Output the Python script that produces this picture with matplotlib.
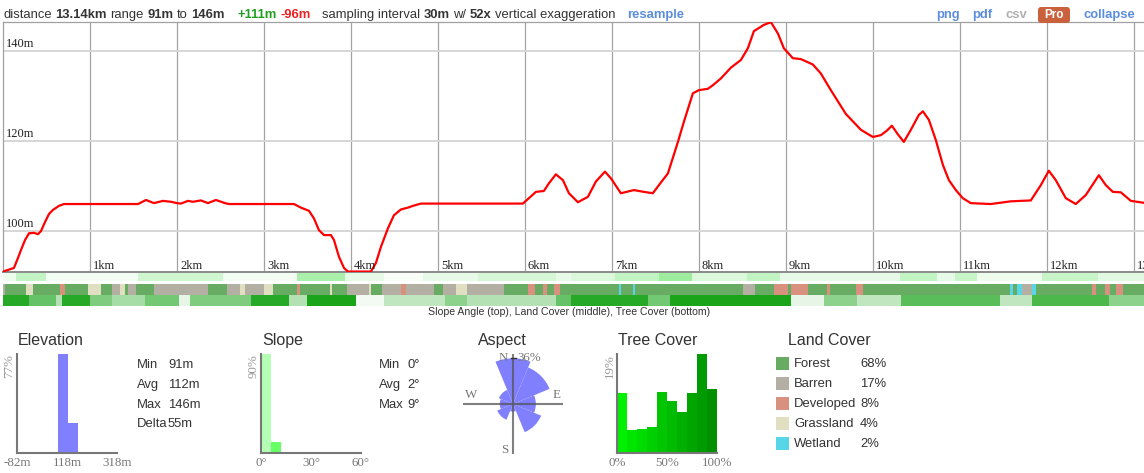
import numpy as np
import matplotlib
matplotlib.use('Agg')
import matplotlib.pyplot as plt
import matplotlib.transforms as mtrans
from matplotlib.colors import LinearSegmentedColormap, Normalize
from matplotlib.patches import FancyBboxPatch, Rectangle

# ---------------- data ----------------
dist_km = [0.000, 0.126, 0.172, 0.207, 0.253, 0.299, 0.356, 0.402, 0.437, 0.483, 0.529, 0.575,
           0.644, 0.701, 1.552, 1.644, 1.736, 1.839, 1.931, 2.000, 2.046, 2.126, 2.184, 2.276,
           2.356, 2.448, 2.552, 2.598, 3.345, 3.425, 3.517, 3.575, 3.632, 3.690, 3.770, 3.805,
           3.862, 3.920, 3.966, 4.230, 4.287, 4.345, 4.425, 4.494, 4.575, 4.655, 4.713, 4.805,
           5.977, 6.046, 6.126, 6.218, 6.276, 6.356, 6.437, 6.506, 6.609, 6.724, 6.816, 6.920,
           6.989, 7.103, 7.253, 7.368, 7.471, 7.540, 7.644, 7.759, 7.828, 7.931, 8.000, 8.103,
           8.161, 8.253, 8.368, 8.483, 8.563, 8.632, 8.747, 8.828, 8.908, 8.977, 9.080, 9.172,
           9.310, 9.402, 9.517, 9.690, 9.862, 10.000, 10.092, 10.161, 10.218, 10.287, 10.356,
           10.437, 10.529, 10.575, 10.644, 10.724, 10.805, 10.874, 10.954, 11.034, 11.126,
           11.356, 11.586, 11.816, 11.931, 12.023, 12.103, 12.218, 12.333, 12.448, 12.598,
           12.678, 12.759, 12.851, 12.966, 13.140]
elev_m = [91.0, 91.8, 94.0, 95.8, 98.0, 99.5, 99.6, 99.3, 100.0, 102.0, 103.8, 104.7,
          105.6, 106.0, 106.0, 106.9, 106.2, 106.7, 106.5, 106.2, 106.1, 106.7, 106.5, 106.8,
          106.2, 106.9, 106.2, 106.0, 106.0, 105.2, 104.5, 102.8, 100.2, 99.1, 99.1, 98.0,
          94.3, 91.8, 91.0, 91.0, 92.9, 96.5, 100.6, 103.5, 104.8, 105.2, 105.6, 106.1,
          106.1, 107.3, 108.7, 108.9, 110.6, 112.6, 111.3, 108.4, 106.4, 107.6, 111.0, 113.2,
          111.7, 108.4, 109.1, 108.7, 108.4, 110.2, 112.8, 119.8, 124.3, 130.6, 131.3, 131.6,
          132.4, 133.9, 136.3, 138.0, 140.6, 144.4, 145.8, 146.4, 143.9, 140.6, 138.4, 138.2,
          137.0, 135.0, 131.3, 126.0, 122.5, 120.9, 121.3, 122.3, 123.4, 121.5, 119.8,
          122.5, 125.8, 126.6, 124.7, 120.2, 114.7, 111.3, 109.1, 107.3, 106.2,
          106.0, 106.6, 106.8, 110.2, 113.4, 111.3, 107.3, 106.0, 108.0, 112.4,
          110.2, 108.7, 108.6, 106.7, 106.2]
km_ticks = list(range(1, 14))
elev_ticks = [100, 120, 140]
total_km = 13.14

lc_edges = [0.00, 0.02, 0.27, 0.34, 0.66, 0.71, 0.98, 1.13, 1.25, 1.34, 1.40, 1.44, 1.53, 1.74,
            2.36, 2.57, 2.72, 2.78, 3.00, 3.10, 3.38, 3.41, 3.76, 3.78, 3.95, 4.21, 4.23, 4.36,
            4.57, 4.63, 4.95, 5.06, 5.21, 5.33, 5.76, 6.04, 6.12, 6.21, 6.25, 6.33, 6.40, 7.08,
            7.11, 7.24, 7.27, 8.51, 8.65, 8.86, 9.03, 9.06, 9.26, 9.47, 9.51, 9.81, 9.89, 11.58,
            11.61, 11.66, 11.72, 11.83, 11.88, 12.52, 12.57, 12.67, 12.73, 12.80, 12.88, 13.14]
lc_class = ['B', 'F', 'G', 'F', 'D', 'F', 'G', 'F', 'B', 'G', 'F', 'B', 'F',
            'B', 'F', 'B', 'G', 'B', 'G', 'F', 'D', 'F', 'G', 'F', 'B', 'G', 'F',
            'B', 'D', 'B', 'F', 'B', 'G', 'B', 'F', 'D', 'F', 'D', 'F', 'D', 'F',
            'W', 'F', 'W', 'F', 'B', 'F', 'D', 'F', 'D', 'F', 'D', 'F', 'D', 'F',
            'W', 'F', 'W', 'B', 'W', 'F', 'D', 'F', 'D', 'F', 'D', 'F']

slope_edges = [0.00, 0.15, 0.49, 1.55, 2.53, 3.38, 3.93, 4.38, 4.83, 5.46, 6.36, 6.53, 7.03,
               7.54, 7.92, 8.55, 8.93, 10.31, 10.74, 10.94, 11.20, 11.95, 12.59, 13.14]
slope_deg = [1.5, 5, 1, 4, 1, 7, 2, 0.5, 2, 3.5, 2, 3, 5, 8, 3, 5, 2, 5, 2, 4.5, 1.5, 4.5, 2.5]

tree_edges = [0.00, 0.30, 0.61, 0.68, 1.00, 1.25, 1.63, 2.02, 2.15, 2.85, 3.29, 3.49, 4.06,
              4.38, 5.08, 5.33, 6.36, 6.53, 7.41, 7.67, 9.06, 9.44, 9.82, 10.32, 11.46, 11.83,
              12.71, 13.14]
tree_pct = [85, 60, 30, 85, 50, 35, 55, 10, 50, 85, 30, 90, 5, 25, 45, 30, 60, 85, 55, 90,
            10, 45, 25, 65, 25, 70, 45]

elev_hist_edges = [82, 122, 162]
elev_hist_pct = [77, 23]
slope_hist_edges = [0, 6, 12]
slope_hist_pct = [90, 10]
tree_hist_edges = [0, 10, 20, 30, 40, 50, 60, 70, 80, 90, 100]
tree_hist_pct = [11.6, 4.5, 4.7, 5.0, 11.8, 10.0, 7.8, 11.5, 19.0, 12.3]
aspect_dirs = ['N', 'NE', 'E', 'SE', 'S', 'SW', 'W', 'NW']
aspect_pct = [36, 27, 9, 16, 1, 5, 3, 4]

elev_stat_names = ['Min', 'Avg', 'Max', 'Delta']
elev_stat_vals = ['91m', '112m', '146m', '55m']
slope_stat_names = ['Min', 'Avg', 'Max']
slope_stat_vals = ['0°', '2°', '9°']

lc_names = ['Forest', 'Barren', 'Developed', 'Grassland', 'Wetland']
lc_keys = ['F', 'B', 'D', 'G', 'W']
lc_share = ['68%', '17%', '8%', '4%', '2%']
lc_colors = {'F': '#68ab63', 'B': '#b3afa3', 'D': '#d9917f', 'G': '#e0dfc2', 'W': '#56d6e8'}

# ---------------- figure ----------------
W, H = 1144, 473
SANS = 'Liberation Sans'
SERIF = 'Liberation Serif'
fig = plt.figure(figsize=(W / 100, H / 100), dpi=100)


def px_axes(l, t, w, h, **kw):
    return fig.add_axes([l / W, 1 - (t + h) / H, w / W, h / H], **kw)


# main profile
ax = px_axes(3, 22, 1143, 250)
ax.set_xlim(0, total_km)
ax.set_ylim(90.9, 146.44)
for k in km_ticks:
    ax.axvline(k, color='#a3a3a3', lw=0.9, zorder=1)
for e in elev_ticks:
    ax.axhline(e, color='#d6d6d6', lw=1.4, zorder=1)
ax.plot(dist_km, elev_m, color='#ff0000', lw=1.6, solid_joinstyle='round',
        solid_capstyle='round', zorder=3)
ax.set_xticks([])
ax.set_yticks([])
for s in ['left', 'top']:
    ax.spines[s].set_color('#a0a0a0')
    ax.spines[s].set_linewidth(0.9)
ax.spines['bottom'].set_color('#8a8a8a')
ax.spines['bottom'].set_linewidth(1.4)
ax.spines['right'].set_visible(False)

xlab_tr = mtrans.offset_copy(ax.get_xaxis_transform(), fig=fig, x=3, y=3, units='dots')
for k in km_ticks:
    ax.text(k, 0, f'{k}km', transform=xlab_tr, ha='left', va='baseline',
            family=SERIF, fontsize=9, color='#222', zorder=4)
ylab_tr = mtrans.offset_copy(ax.get_yaxis_transform(), fig=fig, x=3, y=4, units='dots')
for e in elev_ticks:
    ax.text(0, e, f'{e}m', transform=ylab_tr, ha='left', va='baseline',
            family=SERIF, fontsize=9, color='#222', zorder=4)


# strips
def strip(top, h, edges, colors):
    a = px_axes(3, top, 1143, h)
    spans = [(edges[i], edges[i + 1] - edges[i]) for i in range(len(colors))]
    a.broken_barh(spans, (0, 1), facecolors=colors, edgecolor='none', linewidth=0)
    a.set_xlim(0, total_km)
    a.set_ylim(0, 1)
    a.set_axis_off()
    return a


slope_cmap = LinearSegmentedColormap.from_list('sl', ['#ffffff', '#86e886'])
tree_cmap = LinearSegmentedColormap.from_list('tr', ['#ffffff', '#009a00'])
strip(273, 8, slope_edges, [slope_cmap(Normalize(0, 10)(v)) for v in slope_deg])
strip(284, 11, lc_edges, [lc_colors[c] for c in lc_class])
strip(295, 11, tree_edges, [tree_cmap(Normalize(0, 100)(v)) for v in tree_pct])


# histograms
def hist_axes(left, edges, vals, colors, xlim, xlabels, ymax, ylbl):
    a = px_axes(left, 354, 100, 99)
    a.bar(edges[:-1], vals, width=np.diff(edges), align='edge', color=colors, linewidth=0)
    a.set_xlim(*xlim)
    a.set_ylim(0, ymax)
    a.set_xticks([])
    a.set_yticks([])
    for s in ['top', 'right']:
        a.spines[s].set_visible(False)
    for s in ['left', 'bottom']:
        a.spines[s].set_color('#777777')
        a.spines[s].set_linewidth(1.5)
    for v, s in xlabels:
        a.text(v, -0.10, s, transform=a.get_xaxis_transform(), ha='center', va='center',
               family=SERIF, fontsize=9.4, color='#777')
    a.text(-0.075, 1.0, ylbl, transform=a.transAxes, rotation=90, ha='center', va='top',
           family=SERIF, fontsize=9.4, color='#999')
    a.patch.set_alpha(0)
    return a


hist_axes(17, elev_hist_edges, elev_hist_pct, '#8080ff', (-82, 318),
          [(-82, '-82m'), (118, '118m'), (318, '318m')], max(elev_hist_pct), '77%')
hist_axes(261, slope_hist_edges, slope_hist_pct, ['#b3ffb3', '#66ff66'], (0, 60),
          [(0, '0°'), (30, '30°'), (60, '60°')], max(slope_hist_pct), '90%')
tree_cols = [(0, (240 - i * 96 / 9) / 255, 0) for i in range(10)]
hist_axes(617, tree_hist_edges, tree_hist_pct, tree_cols, (0, 100),
          [(0, '0%'), (50, '50%'), (100, '100%')], max(tree_hist_pct), '19%')

# aspect rose
ax_a = px_axes(463, 354, 100, 100, projection='polar')
ax_a.set_theta_zero_location('N')
ax_a.set_theta_direction(-1)
theta = np.radians(np.arange(len(aspect_dirs)) * 45)
ax_a.bar(theta, np.sqrt(aspect_pct), width=np.radians(45), color='#8080ff', linewidth=0,
         zorder=1)
rmax = np.sqrt(max(aspect_pct)) * 50 / 45.7
ax_a.set_ylim(0, rmax)
for t in theta[::2]:
    ax_a.plot([t, t], [0, rmax], color='#555555', alpha=0.75, lw=1.5, zorder=2,
              solid_capstyle='butt')
ax_a.set_axis_off()

# overlay for text / legend
ov = fig.add_axes([0, 0, 1, 1])
ov.set_xlim(0, W)
ov.set_ylim(H, 0)
ov.set_axis_off()
renderer = fig.canvas.get_renderer()


def pieces(x, y, parts, fs=9.4, gap=3.6):
    for txt, bold, col in parts:
        t = ov.text(x, y, txt, fontsize=fs, fontweight='bold' if bold else 'normal',
                    color=col, family=SANS, ha='left', va='center')
        x += t.get_window_extent(renderer=renderer).width + gap
    return x


DK = '#333333'
BL = '#5b8edc'
pieces(3, 15, [('distance', False, DK), ('13.14km', True, DK), ('range', False, DK),
               ('91m', True, DK), ('to', False, DK), ('146m', True, DK)])
pieces(238, 15, [('+111m', True, '#1e9e1e'), ('-96m', True, '#ee2020')])
pieces(322, 15, [('sampling interval', False, DK), ('30m', True, DK), ('w/', False, DK),
                 ('52x', True, DK), ('vertical exaggeration', False, DK)])
pieces(627, 15, [('resample', True, BL)])
pieces(936, 15, [('png', True, BL)])
pieces(972, 15, [('pdf', True, BL)])
pieces(1006, 15, [('csv', True, '#b0b0b0')])
ov.add_patch(FancyBboxPatch((1038, 7), 32, 16, boxstyle='round,pad=0,rounding_size=3',
                            facecolor='#c9623c', edgecolor='none'))
ov.text(1054, 15.5, 'Pro', fontsize=8.5, fontweight='bold', color='white', family=SANS,
        ha='center', va='center')
pieces(1083, 15, [('collapse', True, BL)])

ov.text(569, 312, 'Slope Angle (top), Land Cover (middle), Tree Cover (bottom)',
        fontsize=7.6, color=DK, family=SANS, ha='center', va='center')

# titles
for x, s in [(18, 'Elevation'), (262, 'Slope'), (478, 'Aspect'), (618, 'Tree Cover'),
             (788, 'Land Cover')]:
    ov.text(x, 340, s, fontsize=11.5, color=DK, family=SANS, ha='left', va='center')

# stats
stat_rows = [365, 385, 405, 424]
for i, (n, v) in enumerate(zip(elev_stat_names, elev_stat_vals)):
    ov.text(137, stat_rows[i], n, fontsize=9.4, color=DK, family=SANS, va='center')
    ov.text(168, stat_rows[i], v, fontsize=9.4, color=DK, family=SANS, va='center')
for i, (n, v) in enumerate(zip(slope_stat_names, slope_stat_vals)):
    ov.text(379, stat_rows[i], n, fontsize=9.4, color=DK, family=SANS, va='center')
    ov.text(407, stat_rows[i], v, fontsize=9.4, color=DK, family=SANS, va='center')

# aspect labels
GR = '#777777'
ov.text(503, 358, 'N', fontsize=9.4, color=GR, family=SERIF, ha='center', va='center')
ov.text(517, 358, '36%', fontsize=9.4, color=GR, family=SERIF, ha='left', va='center')
ov.plot([510.5, 515.5], [358.3, 358.3], color='#333', lw=1)
ov.text(471, 395, 'W', fontsize=9.4, color=GR, family=SERIF, ha='center', va='center')
ov.text(557, 395, 'E', fontsize=9.4, color=GR, family=SERIF, ha='center', va='center')
ov.text(505, 450, 'S', fontsize=9.4, color=GR, family=SERIF, ha='center', va='center')

# land cover legend
for i, (n, k, p) in enumerate(zip(lc_names, lc_keys, lc_share)):
    yc = 363.5 + 20 * i
    ov.add_patch(Rectangle((776, yc - 6.5), 13, 13, facecolor=lc_colors[k], edgecolor='none'))
    ov.text(794, yc, n, fontsize=9.4, color=DK, family=SANS, va='center')
    ov.text(860, yc, p, fontsize=9.4, color=DK, family=SANS, va='center')

fig.savefig('out.png', dpi=100)
